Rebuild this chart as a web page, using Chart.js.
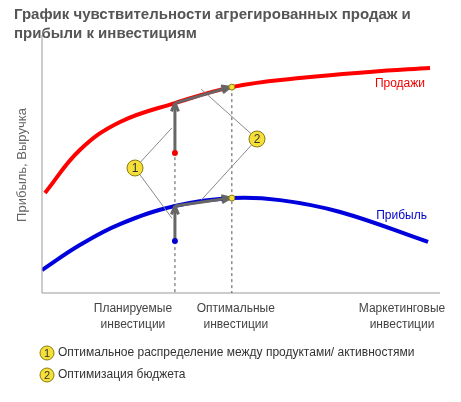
<!DOCTYPE html>
<html>
<head>
<meta charset="utf-8">
<script src="https://cdn.jsdelivr.net/npm/chart.js@4/dist/chart.umd.min.js"></script>
<style>
  body { margin: 0; background: #fff; }
  #wrap { width: 461px; height: 402px; }
</style>
</head>
<body>
<div id="wrap"><canvas id="sensChart"></canvas></div>
<script>
// curve points (investment %, value %)
const salesX = [0.75, 9.5, 19.6, 33.4, 47.7, 64.8, 82.4, 97.5];
const salesY = [38.8, 55.4, 66.3, 73.6, 79.8, 83.3, 85.7, 87.2];
const profitX = [0, 9.5, 19.6, 33.4, 47.7, 59.8, 74.9, 97];
const profitY = [8.9, 18.6, 26.7, 33.7, 36.8, 36, 31.4, 19.8];
const plannedX = 33.4, optimalX = 47.7;
const startSales = 54.3, startProfit = 20.2; // dots below the curves
const xLabels = ['Планируемые\nинвестиции', 'Оптимальные\nинвестиции', 'Маркетинговые\nинвестиции'];
const legendItems = ['Оптимальное распределение между продуктами/ активностями', 'Оптимизация бюджета'];

function pts(xs, ys) { return xs.map((x, i) => ({x: x, y: ys[i]})); }

function arrow(ctx, x1, y1, x2, y2) {
    const a = Math.atan2(y2 - y1, x2 - x1), h = 9;
    ctx.beginPath(); ctx.moveTo(x1, y1); ctx.lineTo(x2, y2); ctx.stroke();
    ctx.beginPath();
    ctx.moveTo(x2, y2);
    ctx.lineTo(x2 - h * Math.cos(a - 0.4), y2 - h * Math.sin(a - 0.4));
    ctx.moveTo(x2, y2);
    ctx.lineTo(x2 - h * Math.cos(a + 0.4), y2 - h * Math.sin(a + 0.4));
    ctx.stroke();
}
function badge(ctx, x, y, t, r) {
    ctx.beginPath(); ctx.arc(x, y, r, 0, Math.PI * 2);
    ctx.fillStyle = '#f5e03a'; ctx.fill();
    ctx.strokeStyle = '#8a7a10'; ctx.lineWidth = 1; ctx.stroke();
    ctx.fillStyle = '#333'; ctx.font = (r + 4) + 'px Arial';
    ctx.textAlign = 'center'; ctx.textBaseline = 'middle';
    ctx.fillText(t, x, y + 1);
}

const deco = {
    id: 'deco',
    afterDatasetsDraw(chart) {
        const {ctx, chartArea: ca, scales: {x, y}} = chart;
        ctx.save();
        // axes
        ctx.strokeStyle = '#999'; ctx.lineWidth = 1;
        ctx.beginPath(); ctx.moveTo(ca.left, ca.top); ctx.lineTo(ca.left, ca.bottom); ctx.lineTo(ca.right, ca.bottom); ctx.stroke();
        // dashed guides
        ctx.setLineDash([3, 3]); ctx.strokeStyle = '#555';
        [[plannedX, salesY[3]], [optimalX, salesY[4]]].forEach(p => {
            ctx.beginPath(); ctx.moveTo(x.getPixelForValue(p[0]), y.getPixelForValue(p[1])); ctx.lineTo(x.getPixelForValue(p[0]), ca.bottom); ctx.stroke();
        });
        ctx.setLineDash([]);
        // leader lines
        const b1 = {x: 135, y: 168}, b2 = {x: 257, y: 139};
        ctx.strokeStyle = '#888'; ctx.lineWidth = 1;
        [[plannedX, 64], [plannedX, 29]].forEach(p => { ctx.beginPath(); ctx.moveTo(b1.x, b1.y); ctx.lineTo(x.getPixelForValue(p[0]) - 3, y.getPixelForValue(p[1])); ctx.stroke(); });
        [[40, 79], [40, 36]].forEach(p => { ctx.beginPath(); ctx.moveTo(b2.x, b2.y); ctx.lineTo(x.getPixelForValue(p[0]), y.getPixelForValue(p[1])); ctx.stroke(); });
        // arrows
        ctx.strokeStyle = '#666'; ctx.lineWidth = 3;
        const px = x.getPixelForValue(plannedX), ox = x.getPixelForValue(optimalX);
        arrow(ctx, px, y.getPixelForValue(startSales), px, y.getPixelForValue(salesY[3]));
        arrow(ctx, px, y.getPixelForValue(startProfit), px, y.getPixelForValue(profitY[3]));
        arrow(ctx, px, y.getPixelForValue(salesY[3]), ox - 2, y.getPixelForValue(salesY[4]));
        arrow(ctx, px, y.getPixelForValue(profitY[3]), ox - 2, y.getPixelForValue(profitY[4]));
        // dots
        [[px, startSales, '#e00'], [px, startProfit, '#00c']].forEach(d => {
            ctx.beginPath(); ctx.arc(d[0], y.getPixelForValue(d[1]), 3, 0, Math.PI * 2); ctx.fillStyle = d[2]; ctx.fill();
        });
        [salesY[4], profitY[4]].forEach(v => {
            ctx.beginPath(); ctx.arc(ox, y.getPixelForValue(v), 3, 0, Math.PI * 2);
            ctx.fillStyle = '#f5e03a'; ctx.fill(); ctx.strokeStyle = '#8a7a10'; ctx.lineWidth = 1; ctx.stroke();
        });
        badge(ctx, b1.x, b1.y, '1', 8);
        badge(ctx, b2.x, b2.y, '2', 8);
        // texts
        ctx.fillStyle = '#555'; ctx.font = 'bold 15px Arial'; ctx.textAlign = 'left'; ctx.textBaseline = 'alphabetic';
        ctx.fillText('График чувствительности агрегированных продаж и', 14, 19);
        ctx.fillText('прибыли к инвестициям', 14, 38);
        ctx.font = '12px Arial';
        ctx.fillStyle = '#e00'; ctx.textAlign = 'right'; ctx.fillText('Продажи', 425, 87);
        ctx.fillStyle = '#00c'; ctx.fillText('Прибыль', 427, 219);
        ctx.fillStyle = '#444'; ctx.textAlign = 'center';
        const xs = [x.getPixelForValue(plannedX) - 42, x.getPixelForValue(optimalX) + 4, 402];
        xLabels.forEach((l, i) => l.split('\n').forEach((s, j) => ctx.fillText(s, xs[i], 312 + j * 16)));
        ctx.save(); ctx.translate(26, 165); ctx.rotate(-Math.PI / 2); ctx.font = '13px Arial'; ctx.fillStyle = '#666';
        ctx.fillText('Прибыль, Выручка', 0, 0); ctx.restore();
        legendItems.forEach((l, i) => {
            const yy = 353 + i * 22;
            badge(ctx, 47, yy, String(i + 1), 7);
            ctx.fillStyle = '#333'; ctx.font = '12px Arial'; ctx.textAlign = 'left'; ctx.textBaseline = 'middle';
            ctx.fillText(l, 58, yy);
        });
        ctx.restore();
    }
};

new Chart('sensChart', {
    type: 'line',
    data: {
        datasets: [
            { data: pts(salesX, salesY), borderColor: '#f00', borderWidth: 4, tension: 0.4, pointRadius: 0 },
            { data: pts(profitX, profitY), borderColor: '#00d', borderWidth: 4, tension: 0.4, pointRadius: 0 }
        ]
    },
    options: {
        animation: false,
        responsive: true,
        maintainAspectRatio: false,
        layout: { padding: { left: 42, top: 35, right: 21, bottom: 109 } },
        scales: {
            x: { type: 'linear', min: 0, max: 100, display: false },
            y: { min: 0, max: 100, display: false }
        },
        plugins: { legend: { display: false }, tooltip: { enabled: false } }
    },
    plugins: [deco]
});
</script>
</body>
</html>
